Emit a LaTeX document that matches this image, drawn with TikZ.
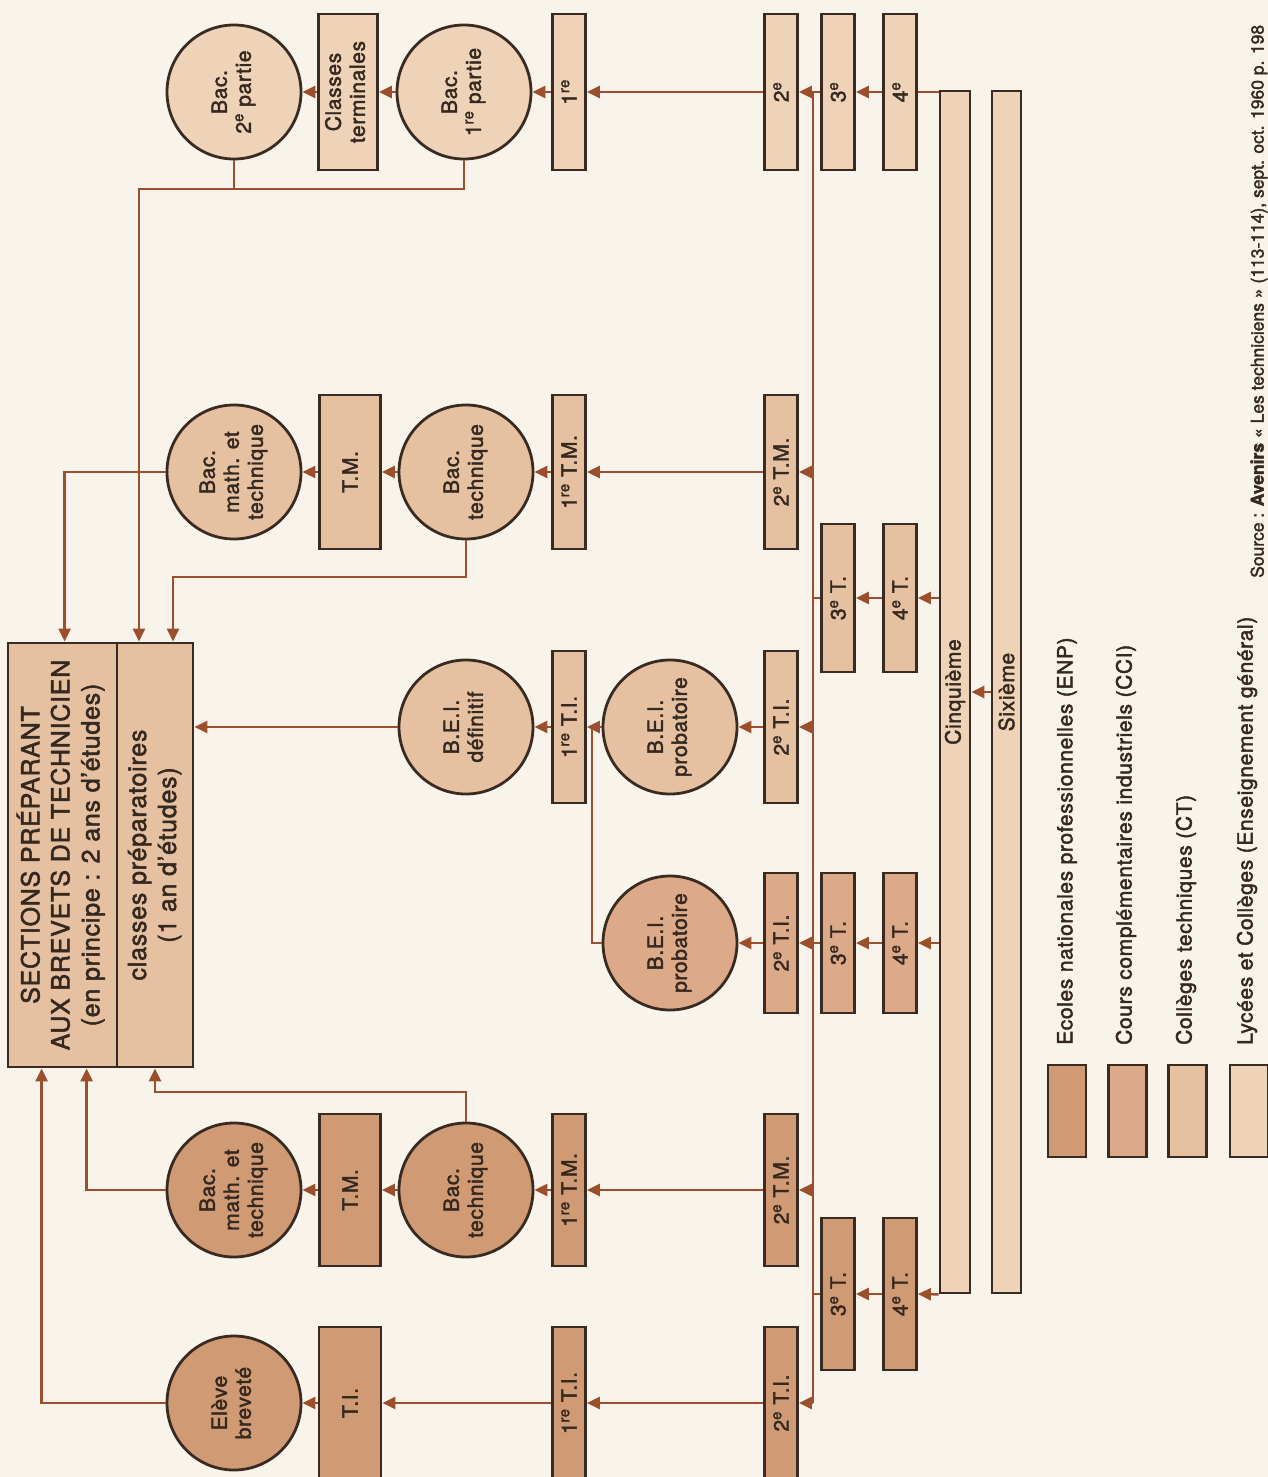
\documentclass[tikz,border=0pt]{standalone}
\usepackage{fontspec}
\setmainfont{TeX Gyre Heros}[FakeBold=2, LetterSpace=3]
\usetikzlibrary{arrows.meta,calc}
\definecolor{bgc}{HTML}{F8F4EC}
\definecolor{lcc}{HTML}{EFD3B9}
\definecolor{ctc}{HTML}{E6C1A1}
\definecolor{ccic}{HTML}{DCAA88}
\definecolor{enpc}{HTML}{CF9A74}
\definecolor{edgec}{HTML}{3A2B22}
\definecolor{linec}{HTML}{9B4F2C}
\definecolor{txtc}{HTML}{35281F}
\newcommand{\rtx}[1]{\rotatebox{90}{#1}}
\newcommand{\rtt}[1]{\rotatebox{90}{\begin{tabular}{@{}c@{}}#1\end{tabular}}}
\newcommand{\sptxt}[1]{\textsuperscript{#1}}
\begin{document}
\begin{tikzpicture}[x=1pt,y=-1pt, font=\fontsize{21}{24}\selectfont, text=txtc,
 nb/.style={draw=edgec, line width=2.8pt, inner sep=0pt},
 cir/.style={nb, circle, minimum size=134pt},
 nbox/.style={nb, minimum width=33pt},
 ln/.style={draw=linec, line width=2.4pt},
 arr/.style={ln, -{Triangle[length=13pt,width=12pt]}}]
\useasboundingbox (0,0) rectangle (1268,1477);
\fill[bgc] (0,0) rectangle (1268,1477);
\clip (0,0) rectangle (1268,1477);

% ---------- row 1 (lycees et colleges)
\node[cir, fill=lcc] (bacA) at (234,92) {\rtt{Bac.\\2\sptxt{e} partie}};
\node[nb, fill=lcc, minimum width=59pt, minimum height=156pt] (clt) at (348,92) {\rtt{Classes\\terminales}};
\node[cir, fill=lcc] (bacB) at (464,92) {\rtt{Bac.\\1\sptxt{re} partie}};
\node[nbox, fill=lcc, minimum height=156pt] (pre) at (569,92) {\rtx{1\sptxt{re}}};
\node[nbox, fill=lcc, minimum height=156pt] (sec) at (781,92) {\rtx{2\sptxt{e}}};
\node[nbox, fill=lcc, minimum height=156pt] (tro) at (838,92) {\rtx{3\sptxt{e}}};
\node[nbox, fill=lcc, minimum height=156pt] (qua) at (900,92) {\rtx{4\sptxt{e}}};

% ---------- long bars
\node[nb, fill=lcc, minimum width=30pt, minimum height=1202pt] (cinq) at (955,692) {\rtx{Cinquième}};
\node[nb, fill=lcc, minimum width=29pt, minimum height=1202pt] (six) at (1006.5,692) {\rtx{Sixième}};

% ---------- row 2 (colleges techniques)
\node[cir, fill=ctc] (bmA) at (234,472) {\rtt{Bac.\\math. et\\technique}};
\node[nb, fill=ctc, minimum width=61pt, minimum height=154pt] (tmA) at (350,472) {\rtx{T.M.}};
\node[cir, fill=ctc] (btA) at (466,472) {\rtt{Bac.\\technique}};
\node[nbox, fill=ctc, minimum height=154pt] (tmB) at (569,472) {\rtx{1\sptxt{re} T.M.}};
\node[nbox, fill=ctc, minimum height=154pt] (tmC) at (781,472) {\rtx{2\sptxt{e} T.M.}};
\node[nbox, fill=ctc, minimum height=148pt] (tA3) at (838,598) {\rtx{3\sptxt{e} T.}};
\node[nbox, fill=ctc, minimum height=148pt] (tA4) at (900,598) {\rtx{4\sptxt{e} T.}};

% ---------- row 3
\node[cir, fill=ctc] (bdef) at (466,727) {\rtt{B.E.I.\\définitif}};
\node[nbox, fill=ctc, minimum height=152pt] (tiA1) at (569,727) {\rtx{1\sptxt{re} T.I.}};
\node[cir, fill=ctc] (bprA) at (670,727) {\rtt{B.E.I.\\probatoire}};
\node[nbox, fill=ctc, minimum height=152pt] (tiA2) at (781,727) {\rtx{2\sptxt{e} T.I.}};

% ---------- row 4 (CCI)
\node[cir, fill=ccic] (bprB) at (670,943) {\rtt{B.E.I.\\probatoire}};
\node[nbox, fill=ccic, minimum height=140pt] (tiB2) at (781,943) {\rtx{2\sptxt{e} T.I.}};
\node[nbox, fill=ccic, minimum height=140pt] (tB3) at (838,943) {\rtx{3\sptxt{e} T.}};
\node[nbox, fill=ccic, minimum height=140pt] (tB4) at (900,943) {\rtx{4\sptxt{e} T.}};

% ---------- row 5 (ENP)
\node[cir, fill=enpc] (bmB) at (234,1190) {\rtt{Bac.\\math. et\\technique}};
\node[nb, fill=enpc, minimum width=61pt, minimum height=152pt] (tmD) at (350,1190) {\rtx{T.M.}};
\node[cir, fill=enpc] (btB) at (466,1190) {\rtt{Bac.\\technique}};
\node[nbox, fill=enpc, minimum height=152pt] (tmE) at (569,1190) {\rtx{1\sptxt{re} T.M.}};
\node[nbox, fill=enpc, minimum height=152pt] (tmF) at (781,1190) {\rtx{2\sptxt{e} T.M.}};
\node[nbox, fill=enpc, minimum height=152pt] (tC3) at (838,1294) {\rtx{3\sptxt{e} T.}};
\node[nbox, fill=enpc, minimum height=152pt] (tC4) at (900,1294) {\rtx{4\sptxt{e} T.}};

% ---------- row 6 (ENP)
\node[cir, fill=enpc] (elv) at (234,1403) {\rtt{Elève\\breveté}};
\node[nb, fill=enpc, minimum width=62pt, minimum height=152pt] (tiC0) at (350,1403) {\rtx{T.I.}};
\node[nbox, fill=enpc, minimum height=152pt] (tiC1) at (569,1403) {\rtx{1\sptxt{re} T.I.}};
\node[nbox, fill=enpc, minimum height=152pt] (tiC2) at (781,1403) {\rtx{2\sptxt{e} T.I.}};

% ---------- big box
\node[nb, fill=ctc, minimum width=109pt, minimum height=424pt, font=\fontsize{25}{30}\selectfont] (secA) at (62.5,855)
  {\rtt{SECTIONS PRÉPARANT\\AUX BREVETS DE TECHNICIEN\\(en principe : 2 ans d'études)}};
\node[nb, fill=ctc, minimum width=76pt, minimum height=424pt, font=\fontsize{25}{30}\selectfont] (secB) at (155,855)
  {\rtt{classes préparatoires\\(1 an d'études)}};

% ---------- connectors
\coordinate (bus0) at (813,92);
\coordinate (bus1) at (813,1403);
\draw[ln] (bus0) -- (bus1);
% row 1
\draw[arr] (sec.west) -- (pre.east);
\draw[arr] (pre.west) -- (bacB.east);
\draw[arr] (bacB.west) -- (clt.east);
\draw[arr] (clt.west) -- (bacA.east);
\draw[arr] (tro.west) -- (sec.east);
\draw[arr] (qua.west) -- (tro.east);
\draw[ln] (qua.east -| cinq.west) -- (qua.east);
\coordinate (jA) at (139,189);
\draw[ln] (bacA.south) -- (bacA.south |- jA);
\draw[arr] (bacB.south) |- (jA) -- (jA |- secB.north);
% row 2
\draw[arr] (tmC.east -| bus0) -- (tmC.east);
\draw[arr] (tmC.west) -- (tmB.east);
\draw[arr] (tmB.west) -- (btA.east);
\draw[arr] (btA.west) -- (tmA.east);
\draw[arr] (tmA.west) -- (bmA.east);
\draw[arr] (bmA.west) -| ([xshift=58pt]secA.north west);
\coordinate (jB) at (173,577);
\draw[arr] (btA.south) |- (jB) -- (jB |- secB.north);
\draw[arr] (tA4.east -| cinq.west) -- (tA4.east);
\draw[arr] (tA4.west) -- (tA3.east);
\draw[ln] (tA3.west) -- (tA3.west -| bus0);
% row 3
\draw[arr] (tiA2.east -| bus0) -- (tiA2.east);
\draw[arr] (tiA2.west) -- (bprA.east);
\draw[arr] (bprA.west) -- (tiA1.east);
\draw[arr] (tiA1.west) -- (bdef.east);
\draw[arr] (bdef.west) -- (bdef.west -| secB.east);
\coordinate (jC) at (592,727);
\draw[ln] (bprB.west) -| (jC);
\draw[arr] (six.west) -- (six.west -| cinq.east);
% row 4
\draw[arr] (tB4.east -| cinq.west) -- (tB4.east);
\draw[arr] (tB4.west) -- (tB3.east);
\draw[arr] (tB3.west) -- (tiB2.east);
\draw[arr] (tiB2.west) -- (bprB.east);
% row 5
\draw[arr] (tmF.east -| bus0) -- (tmF.east);
\draw[arr] (tmF.west) -- (tmE.east);
\draw[arr] (tmE.west) -- (btB.east);
\draw[arr] (btB.west) -- (tmD.east);
\draw[arr] (tmD.west) -- (bmB.east);
\draw[arr] (bmB.west) -| ([xshift=80pt]secA.south west);
\coordinate (jD) at (155,1092);
\draw[arr] (btB.north) |- (jD) -- (jD |- secB.south);
\draw[arr] (cinq.south west) -- (tC4.east);
\draw[arr] (tC4.west) -- (tC3.east);
\draw[ln] (tC3.west) -- (tC3.west -| bus0);
% row 6
\draw[arr] (bus1) -- (tiC2.east);
\draw[arr] (tiC2.west) -- (tiC1.east);
\draw[arr] (tiC1.west) -- (tiC0.east);
\draw[arr] (tiC0.west) -- (elv.east);
\draw[arr] (elv.west) -| ([xshift=35pt]secA.south west);

% ---------- legend
\node[nb, fill=enpc, minimum width=38pt, minimum height=92pt] (swA) at (1067,1111) {};
\node[nb, fill=ccic, minimum width=38pt, minimum height=92pt] (swB) at (1127.5,1111) {};
\node[nb, fill=ctc, minimum width=38pt, minimum height=92pt] (swC) at (1187.5,1111) {};
\node[nb, fill=lcc, minimum width=38pt, minimum height=92pt] (swD) at (1249,1111) {};
\node[anchor=south, inner sep=0pt] (lgA) at (1067,1045) {\rtx{Ecoles nationales professionnelles (ENP)}};
\node[anchor=south, inner sep=0pt] (lgB) at (1126,1045) {\rtx{Cours complémentaires industriels (CCI)}};
\node[anchor=south, inner sep=0pt] (lgC) at (1186,1045) {\rtx{Collèges techniques (CT)}};
\node[anchor=south, inner sep=0pt] (lgD) at (1247,1045) {\rtx{Lycées et Collèges (Enseignement général)}};
\node[anchor=south, inner sep=0pt, font=\fontsize{17.5}{20}\selectfont\addfontfeatures{LetterSpace=0}] (src) at (1259,578)
  {\rtx{Source : \textbf{Avenirs} « Les techniciens » (113-114), sept. oct. 1960 p. 198}};
\end{tikzpicture}
\end{document}
